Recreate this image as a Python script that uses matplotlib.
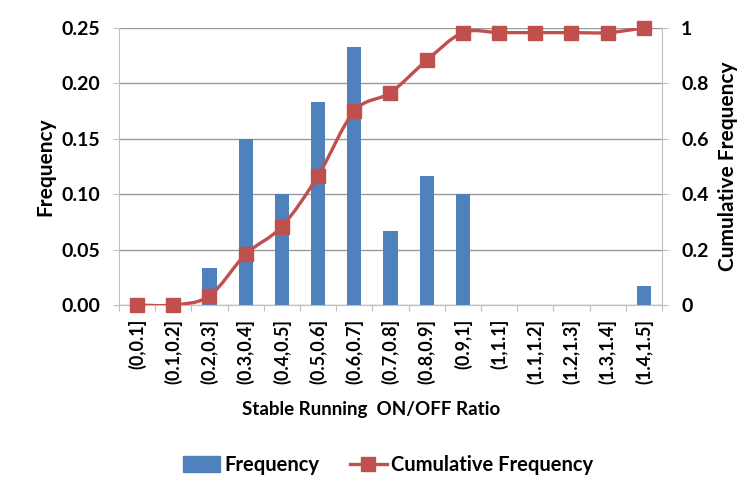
import matplotlib
matplotlib.use("Agg")
import matplotlib.pyplot as plt
from matplotlib.path import Path
from matplotlib.patches import PathPatch, Patch
from matplotlib.lines import Line2D
import numpy as np

categories = ["(0,0.1]", "(0.1,0.2]", "(0.2,0.3]", "(0.3,0.4]", "(0.4,0.5]",
              "(0.5,0.6]", "(0.6,0.7]", "(0.7,0.8]", "(0.8,0.9]", "(0.9,1]",
              "(1,1.1]", "(1.1,1.2]", "(1.2,1.3]", "(1.3,1.4]", "(1.4,1.5]"]
frequency = [0.0, 0.0, 0.0333, 0.15, 0.10, 0.1833, 0.2333, 0.0667, 0.1167, 0.10,
             0.0, 0.0, 0.0, 0.0, 0.0167]
cumulative = [0.0, 0.0, 0.0333, 0.1833, 0.2833, 0.4667, 0.70, 0.7667, 0.8833, 0.9833,
              0.9833, 0.9833, 0.9833, 0.9833, 1.0]
left_ticks = [0, 0.05, 0.10, 0.15, 0.20, 0.25]
left_tick_labels = ["0.00", "0.05", "0.10", "0.15", "0.20", "0.25"]
right_ticks = [0, 0.2, 0.4, 0.6, 0.8, 1.0]
right_tick_labels = ["0", "0.2", "0.4", "0.6", "0.8", "1"]

BAR = "#4F81BD"
LINE = "#C0504D"
GRID = "#9A9A9A"
SPINE = "#BEBEBE"
plt.rcParams['font.family'] = ['Lato', 'DejaVu Sans']
plt.rcParams['font.weight'] = 'bold'

W, H = 753, 493
fig = plt.figure(figsize=(W/100, H/100), dpi=100)
L, R, T, B = 119, 662, 28, 305
ax = fig.add_axes([L/W, 1-B/H, (R-L)/W, (B-T)/H])
ax2 = ax.twinx()

x = np.arange(len(categories))
ax.bar(x, frequency, width=0.39, color=BAR, zorder=2)
ax.set_xlim(-0.5, len(categories)-0.5)
ax.set_ylim(0, 0.25)
ax.set_yticks(left_ticks)
ax.set_yticklabels(left_tick_labels, fontsize=14, fontweight='bold')
ax.grid(axis='y', color=GRID, lw=1, zorder=0)
ax.set_axisbelow(True)

ax.set_xticks(np.arange(len(categories)+1)-0.5)
ax.set_xticklabels([])
ax.set_xticks(x, minor=True)
ax.set_xticklabels(categories, minor=True, rotation=90, fontsize=13, fontweight='bold')
ax.tick_params(axis='x', which='minor', length=0, pad=10)
ax.tick_params(axis='x', which='major', length=4.5, color=SPINE, direction='out')
ax.tick_params(axis='y', length=4, color=SPINE, direction='out', pad=9.5)

for s in ['top', 'right']:
    ax.spines[s].set_visible(False)
for s in ['left', 'bottom']:
    ax.spines[s].set_color(SPINE)
for s in ['top', 'left', 'bottom']:
    ax2.spines[s].set_visible(False)
ax2.spines['right'].set_color(SPINE)

ax2.set_ylim(0, 1.0)
ax2.set_yticks(right_ticks)
ax2.set_yticklabels(right_tick_labels, fontsize=14, fontweight='bold')
ax2.tick_params(axis='y', length=4.3, color=SPINE, direction='out', pad=9.5)

# Smoothed line (Bezier through the data points, like Excel's smoothed line)
pts = np.column_stack([x, cumulative]).astype(float)
n = len(pts)
verts = [tuple(pts[0])]
codes = [Path.MOVETO]
for i in range(n-1):
    p0 = pts[i-1] if i > 0 else pts[i]
    p1 = pts[i]
    p2 = pts[i+1]
    p3 = pts[i+2] if i+2 < n else pts[i+1]
    c1 = p1 + (p2 - p0)/6.0
    c2 = p2 - (p3 - p1)/6.0
    verts += [tuple(c1), tuple(c2), tuple(p2)]
    codes += [Path.CURVE4]*3
ax2.add_patch(PathPatch(Path(verts, codes), facecolor='none', edgecolor=LINE, lw=2.4,
                        zorder=3, transform=ax2.transData))
ax2.plot(x, cumulative, ls='none', marker='s', ms=10, color=LINE, zorder=4, clip_on=False)

fig.text(45/W, 1-166.5/H, "Frequency", rotation=90, ha='center', va='center',
         fontsize=15, fontweight='bold')
fig.text(728/W, 1-166.5/H, "Cumulative Frequency", rotation=90, ha='center', va='center',
         fontsize=15, fontweight='bold')
fig.text(371/W, 1-409/H, "Stable Running  ON/OFF Ratio", ha='center', va='center',
         fontsize=13.5, fontweight='bold')

handles = [Patch(color=BAR, label="Frequency"),
           Line2D([0], [0], color=LINE, lw=2.4, marker='s', ms=10, label="Cumulative Frequency")]
fig.legend(handles=handles, loc='center', bbox_to_anchor=(388/W, 1-465/H), ncol=2,
           frameon=False, fontsize=14.5, handlelength=1.85, handleheight=0.8,
           columnspacing=1.5, handletextpad=0.2)

fig.savefig("out.png", dpi=100)
